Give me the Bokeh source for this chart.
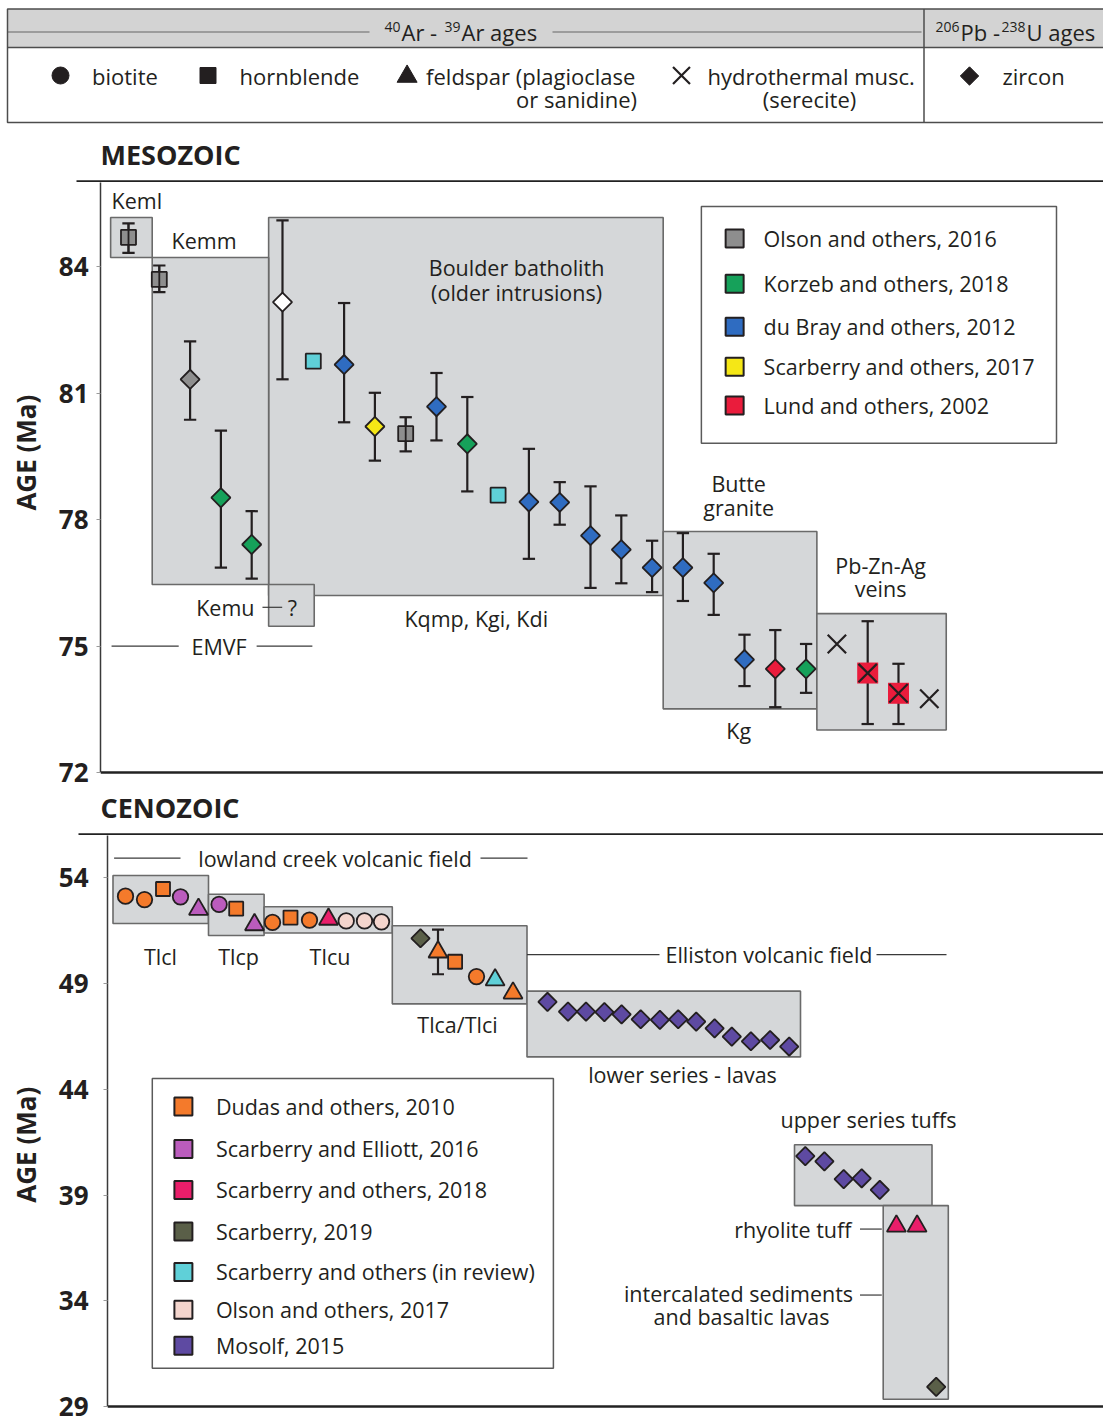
import numpy as np
from bokeh.plotting import figure
from bokeh.layouts import column, row
from bokeh.models import Range1d, FixedTicker, ColumnDataSource
from bokeh.core.properties import value
from bokeh.embed import file_html
from bokeh.resources import INLINE

FONT = "Open Sans"
INK = "#231f20"
BOX_FILL = "#d5d7d9"
BOX_LINE = "#6a6a6a"
RULE = "#3a3a3a"
TXT = "21.5px"

# ---------------------------------------------------------------- sources
source_colors = {
    "Olson16": "#8e8e8e", "Korzeb18": "#16a15a", "duBray12": "#2f6cc1",
    "Scarberry17": "#f5e716", "Lund02": "#ea1c3c", "ScarReview": "#5fd0d8",
    "Dudas10": "#f47a2b", "ScarElliott16": "#bb5cbd", "Scarberry18": "#e91e6a",
    "Scarberry19": "#5a5f48", "Olson17": "#f4d5cd", "Mosolf15": "#5e4aa2",
    "none": "white",
}
meso_legend_keys = ["Olson16", "Korzeb18", "duBray12", "Scarberry17", "Lund02"]
meso_legend_labels = ["Olson and others, 2016", "Korzeb and others, 2018",
                      "du Bray and others, 2012", "Scarberry and others, 2017",
                      "Lund and others, 2002"]
ceno_legend_keys = ["Dudas10", "ScarElliott16", "Scarberry18", "Scarberry19",
                    "ScarReview", "Olson17", "Mosolf15"]
ceno_legend_labels = ["Dudas and others, 2010", "Scarberry and Elliott, 2016",
                      "Scarberry and others, 2018", "Scarberry, 2019",
                      "Scarberry and others (in review)", "Olson and others, 2017",
                      "Mosolf, 2015"]

# mineral dated -> marker
MARKER = {"biotite": "circle", "hornblende": "square", "feldspar": "triangle",
          "muscovite": "x", "zircon": "square"}
ANGLE = {"zircon": np.pi / 4}

# ---------------------------------------------------------------- Mesozoic samples (plot order)
meso_kind = ["hornblende", "hornblende", "zircon", "zircon", "zircon",
             "zircon", "hornblende", "zircon", "zircon", "hornblende",
             "zircon", "zircon", "hornblende", "zircon", "zircon",
             "zircon", "zircon", "zircon", "zircon", "zircon",
             "zircon", "zircon", "zircon", "muscovite", "muscovite",
             "muscovite", "muscovite"]
meso_source = ["Olson16", "Olson16", "Olson16", "Korzeb18", "Korzeb18",
               "none", "ScarReview", "duBray12", "Scarberry17", "Olson16",
               "duBray12", "Korzeb18", "ScarReview", "duBray12", "duBray12",
               "duBray12", "duBray12", "duBray12", "duBray12", "duBray12",
               "duBray12", "Lund02", "Korzeb18", "none", "Lund02",
               "Lund02", "none"]
meso_age = [84.70, 83.70, 81.33, 78.52, 77.41, 83.16, 81.76, 81.68, 80.21, 80.04,
            80.68, 79.80, 78.58, 78.42, 78.41, 77.62, 77.29, 76.86, 76.86, 76.50,
            74.68, 74.46, 74.46, 75.05, 74.36, 73.88, 73.75]
meso_err_hi = [85.03, 84.03, 82.23, 80.11, 78.20, 85.10, None, 83.14, 81.01, 80.43,
               81.48, 80.91, None, 79.68, 78.89, 78.79, 78.10, 77.50, 77.68, 77.19,
               75.27, 75.38, 75.05, None, 75.59, 74.58, None]
meso_err_lo = [84.33, 83.40, 80.37, 76.86, 76.60, 81.33, None, 80.31, 79.40, 79.62,
               79.88, 78.67, None, 77.07, 77.88, 76.38, 76.49, 76.28, 76.07, 75.74,
               74.05, 73.55, 73.89, None, 73.15, 73.15, None]
meso_slot = list(range(len(meso_age)))

# Mesozoic map units: slot span and age span
meso_unit = ["Boulder batholith", "Kemm", "Keml", "Kemu", "Kg", "veins"]
meso_unit_x0 = [4.55, 0.77, -0.58, 4.55, 17.36, 22.35]
meso_unit_x1 = [17.36, 4.55, 0.77, 6.03, 22.35, 26.55]
meso_unit_old = [85.17, 84.22, 85.17, 76.46, 77.72, 75.77]
meso_unit_young = [76.20, 76.46, 84.22, 75.47, 73.51, 73.01]

# ---------------------------------------------------------------- Cenozoic samples (plot order)
ceno_pos = [125, 144, 162.5, 180, 198,
            218.6, 235.7, 254,
            272, 290, 309, 328, 345.7, 364, 381,
            420, 437.5, 454.6, 476, 494.6, 512.5,
            547, 567.5, 585.5, 603.9, 621.1, 640.2, 659.4, 677.7, 695.7, 714.1,
            731.3, 750.4, 769.6, 788.7,
            804.8, 823.9, 843.2, 861.2, 879.3,
            895.9, 916.6,
            935.7]
ceno_age = [53.13, 52.97, 53.47, 53.10, 52.51,
            52.74, 52.54, 51.78,
            51.89, 52.12, 52.00, 52.04, 51.96, 51.96, 51.92,
            51.14, 50.49, 50.03, 49.33, 49.17, 48.55,
            48.13, 47.67, 47.67, 47.65, 47.54, 47.31, 47.28, 47.31, 47.20, 46.88,
            46.49, 46.27, 46.33, 46.02,
            40.84, 40.59, 39.75, 39.79, 39.24,
            37.53, 37.53,
            29.93]
ceno_kind = (["biotite", "biotite", "hornblende", "biotite", "feldspar"]
             + ["biotite", "hornblende", "feldspar"]
             + ["biotite", "hornblende", "biotite", "feldspar", "biotite", "biotite", "biotite"]
             + ["zircon", "feldspar", "hornblende", "biotite", "feldspar", "feldspar"]
             + ["zircon"] * 14 + ["zircon"] * 5 + ["feldspar"] * 2 + ["zircon"])
ceno_source = (["Dudas10", "Dudas10", "Dudas10", "ScarElliott16", "ScarElliott16"]
               + ["ScarElliott16", "Dudas10", "ScarElliott16"]
               + ["Dudas10", "Dudas10", "Dudas10", "Scarberry18", "Olson17", "Olson17", "Olson17"]
               + ["Scarberry19", "Dudas10", "Dudas10", "Dudas10", "ScarReview", "Dudas10"]
               + ["Mosolf15"] * 14 + ["Mosolf15"] * 5 + ["Scarberry18"] * 2 + ["Scarberry19"])
ceno_err_hi = [None] * len(ceno_age)
ceno_err_lo = [None] * len(ceno_age)
ceno_err_hi[16], ceno_err_lo[16] = 51.55, 49.44

ceno_unit = ["Tlcl", "Tlcp", "Tlcu", "Tlca/Tlci", "lower series", "upper series", "rhyolite"]
ceno_unit_x0 = [112.5, 208, 263.6, 391.8, 526.5, 794, 882.7]
ceno_unit_x1 = [208, 263.6, 391.8, 526.5, 800, 931.5, 947.8]
ceno_unit_old = [54.11, 53.22, 52.63, 51.73, 48.64, 41.38, 38.50]
ceno_unit_young = [51.84, 51.27, 51.39, 48.04, 45.53, 38.50, 29.34]


# ---------------------------------------------------------------- helpers
def base(width, height, xr, yr, yaxis=False, **kw):
    p = figure(width=width, height=height, x_range=xr, y_range=yr,
               output_backend="svg", toolbar_location=None, min_border=0,
               outline_line_color=None, x_axis_location=None,
               y_axis_location="left" if yaxis else None,
               background_fill_color="white", border_fill_color="white", **kw)
    p.xgrid.grid_line_color = None
    p.ygrid.grid_line_color = None
    return p


def put_text(p, x, y, txt, size=TXT, align="left", style="normal", angle=0.0, color=INK):
    p.text(x=[x], y=[y], text=[txt], angle=angle, text_align=align,
           text_baseline="middle", text_font=value(FONT),
           text_font_size=value(size), text_font_style=style, text_color=color)


def rule(p, x0, x1, y0, y1, width=1.2, color=RULE):
    p.segment(x0=[x0], y0=[y0], x1=[x1], y1=[y1], line_color=color, line_width=width)


def style_age_axis(p, ticks, bounds, standoff):
    ax = p.yaxis[0]
    ax.ticker = FixedTicker(ticks=ticks)
    ax.bounds = bounds
    ax.major_label_text_font = FONT
    ax.major_label_text_font_size = "26px"
    ax.major_label_text_font_style = "bold"
    ax.major_label_text_color = INK
    ax.major_label_standoff = standoff
    ax.major_tick_in = 0
    ax.major_tick_out = 4
    ax.minor_tick_in = 0
    ax.minor_tick_out = 0
    ax.major_tick_line_color = "#9a9a9a"
    ax.axis_line_color = RULE
    ax.axis_line_width = 1.5


def draw_units(p, x0, x1, old, young):
    p.quad(left=x0, right=x1, top=old, bottom=young, fill_color=BOX_FILL,
           line_color=BOX_LINE, line_width=1.6)


def draw_errors(p, xs, lo, hi, cap):
    idx = [i for i in range(len(xs)) if lo[i] is not None]
    x = [xs[i] for i in idx]
    l = [lo[i] for i in idx]
    h = [hi[i] for i in idx]
    p.segment(x0=x, y0=l, x1=x, y1=h, line_color=INK, line_width=2.2)
    p.segment(x0=[v - cap for v in x], y0=h, x1=[v + cap for v in x], y1=h,
              line_color=INK, line_width=2.2)
    p.segment(x0=[v - cap for v in x], y0=l, x1=[v + cap for v in x], y1=l,
              line_color=INK, line_width=2.2)


def draw_samples(p, xs, ages, kinds, sources, sizes):
    src = ColumnDataSource(dict(
        x=xs, y=ages,
        marker=[MARKER[k] for k in kinds],
        angle=[ANGLE.get(k, 0.0) for k in kinds],
        size=[sizes[k] for k in kinds],
        fill=[source_colors[s] for s in sources],
        lw=[2.2 if k == "muscovite" else 1.8 for k in kinds],
    ))
    p.scatter(x="x", y="y", marker="marker", angle="angle", size="size",
              fill_color="fill", line_color=INK, line_width="lw", source=src)


def draw_legend(p, box, sw_x, tx_x, rows, keys, labels):
    p.quad(left=[box[0]], right=[box[1]], top=[box[2]], bottom=[box[3]],
           fill_color="white", line_color="#5a5a5a", line_width=1.5)
    p.scatter(x=[sw_x] * len(rows), y=rows, marker="square", size=18,
              fill_color=[source_colors[k] for k in keys], line_color=INK, line_width=2)
    p.text(x=[tx_x] * len(rows), y=rows, text=labels, text_align="left",
           text_baseline="middle", text_font=value(FONT),
           text_font_size=value(TXT), text_color=INK)


# ---------------------------------------------------------------- header: symbol key
hdr = base(1103, 182, Range1d(0, 1103), Range1d(182, 0))
hdr.quad(left=[7], right=[1112], top=[8.5], bottom=[47], fill_color="#d3d3d3", line_color=None)
rule(hdr, 7, 369, 31.5, 31.5, 1.4, "#8a8a8a")
rule(hdr, 552, 921, 31.5, 31.5, 1.4, "#8a8a8a")
hdr.quad(left=[7], right=[1112], top=[8.5], bottom=[122], fill_color=None,
         line_color="#4d4d4d", line_width=1.5)
rule(hdr, 7, 1112, 47, 47, 1.5, "#4d4d4d")
rule(hdr, 923.5, 923.5, 8.5, 122, 1.5, "#4d4d4d")

put_text(hdr, 384, 26, "40", size="14px")
put_text(hdr, 401, 31, "Ar - ", size="22px")
put_text(hdr, 444, 26, "39", size="14px")
put_text(hdr, 461, 31, "Ar ages", size="22px")
put_text(hdr, 935, 26, "206", size="14px")
put_text(hdr, 960, 31, "Pb -", size="22px")
put_text(hdr, 1001, 26, "238", size="14px")
put_text(hdr, 1026, 31, "U ages", size="22px")

hdr.scatter(x=[60], y=[75], marker="circle", size=17, fill_color=INK, line_color=INK)
hdr.scatter(x=[207.5], y=[75], marker="square", size=16, fill_color=INK, line_color=INK)
hdr.scatter(x=[406.6], y=[76], marker="triangle", size=20, fill_color=INK, line_color=INK)
hdr.scatter(x=[681], y=[75], marker="x", size=24, line_color=INK, line_width=2.2)
hdr.scatter(x=[969], y=[75.5], marker="square", angle=np.pi / 4, size=13,
            fill_color=INK, line_color=INK)
put_text(hdr, 91.5, 75, "biotite", size="22px")
put_text(hdr, 239, 75, "hornblende", size="22px")
put_text(hdr, 425.6, 75, "feldspar (plagioclase", size="22px")
put_text(hdr, 636.6, 98, "or sanidine)", size="22px", align="right")
put_text(hdr, 707, 75, "hydrothermal musc.", size="22px")
put_text(hdr, 809, 98, "(serecite)", size="22px", align="center")
put_text(hdr, 1002, 75, "zircon", size="22px")

put_text(hdr, 100, 154, "MESOZOIC", size="27px", style="bold")
rule(hdr, 76, 1103, 181, 181, 2.4, "#222222")

# ---------------------------------------------------------------- Mesozoic panel
MESO_PX = 590.0 / 14.0
meso_y = Range1d(86 - 608 / MESO_PX, 86)
meso = base(1053, 608, Range1d(-0.909, 31.656), meso_y, yaxis=True, min_border_left=50)
style_age_axis(meso, [72, 75, 78, 81, 84], (72, 86), 8)
rule(meso, -0.909, 31.656, 72, 72, 2.4, "#222222")

draw_units(meso, meso_unit_x0, meso_unit_x1, meso_unit_old, meso_unit_young)

put_text(meso, -0.55, 85.57, "Keml")
put_text(meso, 1.40, 84.62, "Kemm")
put_text(meso, 12.60, 83.98, "Boulder batholith", align="center")
put_text(meso, 12.60, 83.40, "(older intrusions)", align="center")
put_text(meso, 4.09, 75.92, "Kemu", align="right")
rule(meso, 4.35, 4.99, 75.92, 75.92)
put_text(meso, 5.32, 75.92, "?", align="center")
put_text(meso, 2.94, 75.0, "EMVF", align="center")
rule(meso, -0.55, 1.63, 75.0, 75.0)
rule(meso, 4.16, 5.97, 75.0, 75.0)
put_text(meso, 11.29, 75.65, "Kqmp, Kgi, Kdi", align="center")
put_text(meso, 19.81, 78.86, "Butte", align="center")
put_text(meso, 19.81, 78.29, "granite", align="center")
put_text(meso, 19.81, 72.99, "Kg", align="center")
put_text(meso, 24.42, 76.91, "Pb-Zn-Ag", align="center")
put_text(meso, 24.42, 76.37, "veins", align="center")

draw_legend(meso, (18.60, 30.13, 85.43, 79.81), 19.68, 20.62,
            [84.67, 83.60, 82.58, 81.63, 80.71], meso_legend_keys, meso_legend_labels)

draw_errors(meso, meso_slot, meso_err_lo, meso_err_hi, 0.2)
# coloured backing square for sericite ages with a known source
bx = [meso_slot[i] for i in range(len(meso_slot))
      if meso_kind[i] == "muscovite" and meso_source[i] != "none"]
by = [meso_age[i] for i in range(len(meso_slot))
      if meso_kind[i] == "muscovite" and meso_source[i] != "none"]
bc = [source_colors[meso_source[i]] for i in range(len(meso_slot))
      if meso_kind[i] == "muscovite" and meso_source[i] != "none"]
meso.scatter(x=bx, y=by, marker="square", size=21, fill_color=bc, line_color=None)
draw_samples(meso, meso_slot, meso_age, meso_kind, meso_source,
             {"hornblende": 15, "zircon": 13.5, "muscovite": 26})
# stems over the hornblende squares
hx = [meso_slot[i] for i in range(len(meso_slot))
      if meso_kind[i] == "hornblende" and meso_err_lo[i] is not None]
hl = [meso_err_lo[i] for i in range(len(meso_slot))
      if meso_kind[i] == "hornblende" and meso_err_lo[i] is not None]
hh = [meso_err_hi[i] for i in range(len(meso_slot))
      if meso_kind[i] == "hornblende" and meso_err_lo[i] is not None]
meso.segment(x0=hx, y0=hl, x1=hx, y1=hh, line_color=INK, line_width=1.8)

meso_lab = base(50, 608, Range1d(0, 50), meso_y)
put_text(meso_lab, 25, 79.59, "AGE (Ma)", size="26px", style="bold",
         align="center", angle=np.pi / 2)

# ---------------------------------------------------------------- strip between panels
strip = base(1103, 45, Range1d(0, 1103), Range1d(835, 790))
put_text(strip, 100, 807, "CENOZOIC", size="27px", style="bold")
rule(strip, 78, 1103, 834, 834, 2.4, "#222222")

# ---------------------------------------------------------------- Cenozoic panel
CENO_PX = 571.0 / 27.0
ceno_y = Range1d(56 - 589 / CENO_PX, 56)
ceno = base(1053, 589, Range1d(107, 1103), ceno_y, yaxis=True, min_border_left=57)
style_age_axis(ceno, [29, 34, 39, 44, 49, 54], (29, 56), 15)
rule(ceno, 107, 1103, 29, 29, 2.4, "#222222")

draw_units(ceno, ceno_unit_x0, ceno_unit_x1, ceno_unit_old, ceno_unit_young)

put_text(ceno, 334.5, 54.93, "lowland creek volcanic field", align="center")
rule(ceno, 113.6, 180, 54.93, 54.93)
rule(ceno, 480, 527, 54.93, 54.93)
put_text(ceno, 160, 50.26, "Tlcl", align="center")
put_text(ceno, 238, 50.26, "Tlcp", align="center")
put_text(ceno, 329.5, 50.26, "Tlcu", align="center")
put_text(ceno, 457, 47.08, "Tlca/Tlci", align="center")
rule(ceno, 526.5, 659, 50.37, 50.37)
put_text(ceno, 768.5, 50.37, "Elliston volcanic field", align="center")
rule(ceno, 876, 946, 50.37, 50.37)
put_text(ceno, 682, 44.69, "lower series - lavas", align="center")
put_text(ceno, 868, 42.59, "upper series tuffs", align="center")
put_text(ceno, 851, 37.39, "rhyolite tuff", align="right")
rule(ceno, 859.5, 881.3, 37.39, 37.39)
put_text(ceno, 738, 34.35, "intercalated sediments", align="center")
put_text(ceno, 741, 33.24, "and basaltic lavas", align="center")
rule(ceno, 859.5, 881.3, 34.27, 34.27)

draw_legend(ceno, (151.8, 552.9, 44.51, 30.81), 182.9, 215.4,
            [43.19, 41.18, 39.24, 37.27, 35.36, 33.57, 31.87],
            ceno_legend_keys, ceno_legend_labels)

draw_errors(ceno, ceno_pos, ceno_err_lo, ceno_err_hi, 6)
draw_samples(ceno, ceno_pos, ceno_age, ceno_kind, ceno_source,
             {"biotite": 15.5, "hornblende": 14, "feldspar": 19, "zircon": 13})

ceno_lab = base(50, 589, Range1d(0, 50), ceno_y)
put_text(ceno_lab, 25, 41.38, "AGE (Ma)", size="26px", style="bold",
         align="center", angle=np.pi / 2)

layout = column(hdr, row(meso_lab, meso), strip, row(ceno_lab, ceno))

with open("out.html", "w") as f:
    f.write(file_html(layout, INLINE))
